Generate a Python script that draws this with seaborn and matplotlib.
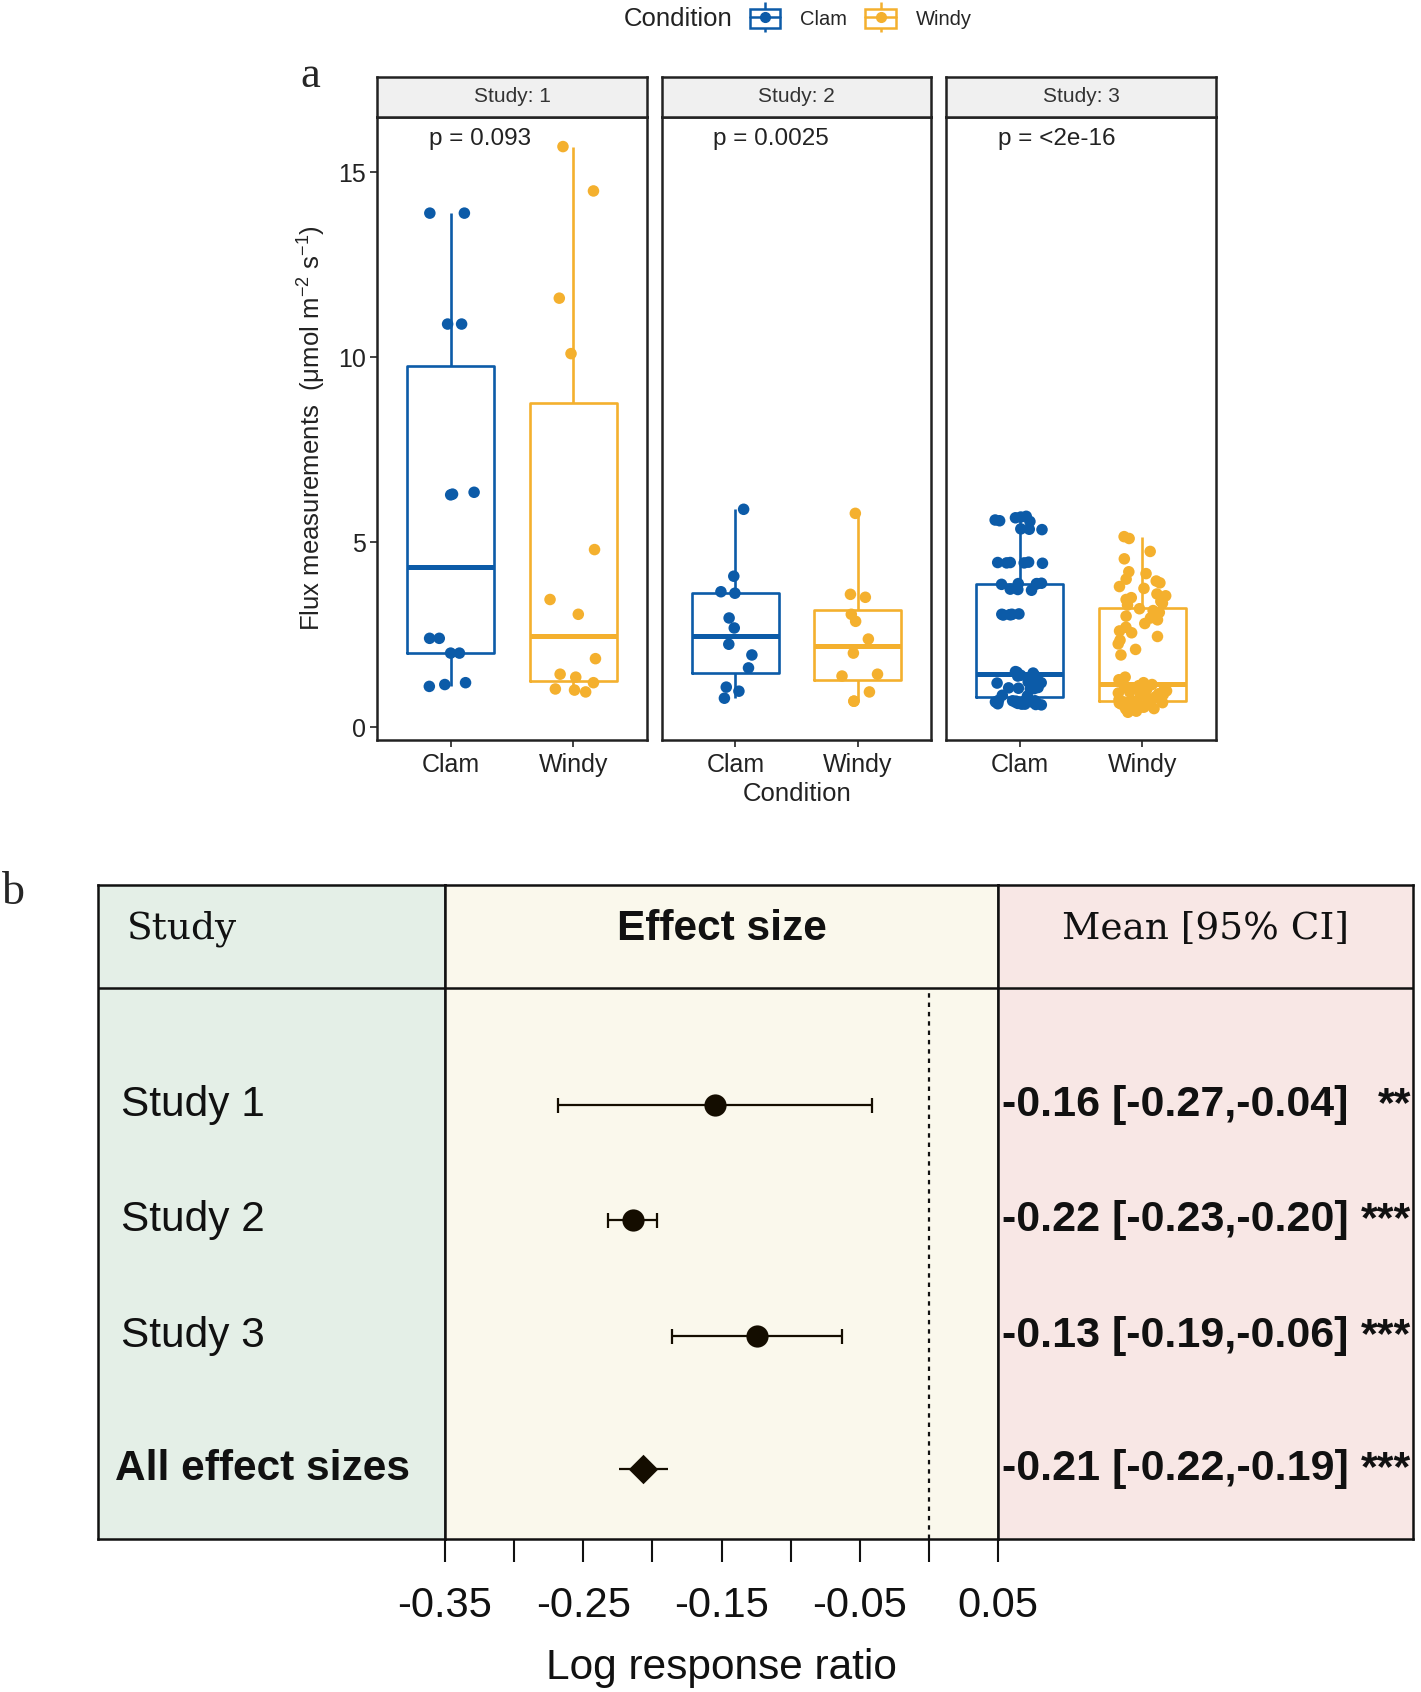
import numpy as np
import pandas as pd
import seaborn as sns
import matplotlib.pyplot as plt
import matplotlib.transforms as mtransforms
from matplotlib.lines import Line2D
from matplotlib.patches import Patch
from matplotlib.legend_handler import HandlerTuple


# ---- panel a: flux measurements per study and condition
conditions = ["Clam", "Windy"]
studies = [1, 2, 3]
p_labels = ["p = 0.093", "p = 0.0025", "p = <2e-16"]

s1_clam = [13.9, 13.9, 10.9, 10.9, 6.35, 6.3, 6.28, 2.4, 2.4, 2.0, 2.0, 1.2, 1.15, 1.1]
s1_windy = [15.7, 14.5, 11.6, 10.1, 4.8, 3.45, 3.05, 1.85, 1.43, 1.35, 1.2, 1.03, 1.0, 0.95]
s2_clam = [5.89, 4.08, 3.66, 3.62, 2.95, 2.68, 2.24, 1.95, 1.6, 1.08, 0.97, 0.78]
s2_windy = [5.78, 3.59, 3.51, 3.05, 2.86, 2.38, 2.0, 1.43, 1.38, 0.95, 0.7, 0.7]
s3_clam = [5.70, 5.68, 5.66, 5.60, 5.58, 5.56, 5.36, 5.35, 5.34,
           4.46, 4.45, 4.45, 4.44, 4.44, 4.43,
           3.89, 3.88, 3.88, 3.87, 3.86, 3.73, 3.72, 3.70,
           3.06, 3.05, 3.05, 3.04, 3.04, 3.03,
           1.50, 1.48, 1.46, 1.41, 1.40, 1.38,
           1.24, 1.23, 1.22, 1.21, 1.20, 1.19,
           1.07, 1.06, 1.05, 1.04, 1.03,
           0.86, 0.84,
           0.72, 0.71, 0.71, 0.70, 0.70, 0.69, 0.69, 0.68, 0.68, 0.67,
           0.64, 0.63, 0.62, 0.62, 0.61, 0.60]
s3_windy = [5.15, 5.10, 4.75, 4.55, 4.20, 4.15, 4.00, 3.95, 3.90, 3.80, 3.75, 3.60,
            3.55, 3.50, 3.45, 3.40, 3.35, 3.30,
            3.20, 3.15, 3.10, 3.00, 2.95, 2.90, 2.80, 2.70, 2.60, 2.55, 2.45, 2.35,
            2.25, 2.10, 1.95, 1.35, 1.28, 1.20,
            1.15, 1.12, 1.10, 1.05, 1.02, 1.00, 0.98, 0.95, 0.92, 0.90, 0.88, 0.85,
            0.82, 0.80, 0.78, 0.76, 0.74, 0.72,
            0.70, 0.68, 0.66, 0.65, 0.63, 0.62, 0.60, 0.58, 0.57, 0.55, 0.54, 0.52,
            0.50, 0.49, 0.47, 0.45, 0.43, 0.40]

# ---- panel b: forest plot
forest_labels = ["Study 1", "Study 2", "Study 3", "All effect sizes"]
forest_mean = [-0.155, -0.214, -0.124, -0.207]
forest_low = [-0.268, -0.232, -0.186, -0.224]
forest_high = [-0.041, -0.197, -0.063, -0.189]
forest_text = ["-0.16 [-0.27,-0.04]", "-0.22 [-0.23,-0.20]",
               "-0.13 [-0.19,-0.06]", "-0.21 [-0.22,-0.19]"]
forest_stars = ["**", "***", "***", "***"]
x_ticks = [-0.35, -0.30, -0.25, -0.20, -0.15, -0.10, -0.05, 0.0, 0.05]
x_ticklabels = ["-0.35", "", "-0.25", "", "-0.15", "", "-0.05", "", "0.05"]

palette = {"Clam": "#0C5BA8", "Windy": "#F4B02E"}
dark = "#222222"
black = "#111111"

rows = []
for st, cl, wi in zip(studies, [s1_clam, s2_clam, s3_clam], [s1_windy, s2_windy, s3_windy]):
    rows += [(st, "Clam", v) for v in cl]
    rows += [(st, "Windy", v) for v in wi]
df = pd.DataFrame(rows, columns=["Study", "Condition", "Flux"])

sns.set_style("ticks")
plt.rcParams["font.family"] = ["Liberation Sans", "DejaVu Sans"]
plt.rcParams["mathtext.default"] = "regular"

W, H = 1421, 1692
fig = plt.figure(figsize=(W / 100, H / 100), dpi=100)


def px_box(x0, y0, x1, y1):
    # pixel box (top-left origin) -> figure fraction rect
    return [x0 / W, 1 - y1 / H, (x1 - x0) / W, (y1 - y0) / H]


np.random.seed(7)
panel_x = [(377, 647), (662, 931), (946, 1216)]
for i, st in enumerate(studies):
    x0, x1 = panel_x[i]
    ax = fig.add_axes(px_box(x0, 117, x1, 740))
    sub = df[df["Study"] == st]
    sns.boxplot(data=sub, x="Condition", y="Flux", hue="Condition", order=conditions,
                hue_order=conditions, palette=palette, fill=False, width=0.71,
                linewidth=1.9, showfliers=False, showcaps=False,
                medianprops=dict(linewidth=3.6), legend=False, ax=ax)
    sns.stripplot(data=sub, x="Condition", y="Flux", hue="Condition", order=conditions,
                  hue_order=conditions, palette=palette, jitter=0.2, size=8.3,
                  linewidth=0, legend=False, zorder=3, ax=ax)
    ax.set_xlim(-0.6, 1.6)
    ax.set_ylim(-0.35, 16.5)
    ax.set_xlabel("")
    ax.set_ylabel("")
    for sp in ax.spines.values():
        sp.set_visible(True)
        sp.set_color(dark)
        sp.set_linewidth(1.8)
    ax.tick_params(axis="x", labelsize=18, colors=dark, length=5, width=1.2, pad=4)
    if i == 0:
        ax.set_yticks([0, 5, 10, 15])
        ax.tick_params(axis="y", labelsize=18, colors=dark, length=5, width=1.2, pad=3)
    else:
        ax.set_yticks([])
    ax.text(-0.18, 15.9, p_labels[i], fontsize=17.5, color=dark, ha="left", va="center")

    sax = fig.add_axes(px_box(x0, 77, x1, 117))
    sax.set_facecolor("#F0F0F0")
    sax.set_xticks([])
    sax.set_yticks([])
    for sp in sax.spines.values():
        sp.set_visible(True)
        sp.set_color(dark)
        sp.set_linewidth(1.8)
    sax.text(0.5, 0.5, f"Study: {st}", transform=sax.transAxes, fontsize=15,
             color="#333333", ha="center", va="center")

fig.text(312 / W, 1 - 428 / H, r"Flux measurements  (μmol m$^{-2}$ s$^{-1}$)",
         rotation=90, fontsize=18.5, color=dark, ha="center", va="center")
fig.text(797 / W, 1 - 794 / H, "Condition", fontsize=18.5, color=dark,
         ha="center", va="center")
fig.text(310 / W, 1 - 76 / H, "a", family="Liberation Serif", fontsize=32,
         ha="center", va="center")

# legend on top
fig.text(624 / W, 1 - 19 / H, "Condition", fontsize=18.5, color=dark, ha="left", va="center")
handles = []
for c in conditions:
    col = palette[c]
    whisk = Line2D([], [], color=col, marker="|", markersize=21, markeredgewidth=1.8,
                   linestyle="none")
    box = Patch(facecolor="white", edgecolor=col, linewidth=1.8)
    mid = Line2D([], [], color=col, lw=1.8, marker="o", markersize=7)
    handles.append((whisk, box, mid))
fig.legend(handles, conditions, handler_map={tuple: HandlerTuple(ndivide=1)},
           loc="center left", bbox_to_anchor=(750 / W, 1 - 19 / H), frameon=False,
           ncol=2, fontsize=14.5, handlelength=1.5, handleheight=1.05,
           handletextpad=1.0, columnspacing=0.9, borderpad=0, borderaxespad=0)

# ---- panel b
fig.text(13 / W, 1 - 893 / H, "b", family="Liberation Serif", fontsize=33,
         ha="center", va="center")

top, bottom = 885, 1539
unit = 115.5
ytop = (bottom - top) / unit
header_y = (bottom - 988) / unit
title_y = (bottom - 929) / unit
row_y = [(bottom - 1105) / unit, (bottom - 1220) / unit,
         (bottom - 1336) / unit, (bottom - 1469) / unit]

axl = fig.add_axes(px_box(98, top, 445, bottom))
axm = fig.add_axes(px_box(445, top, 998, bottom))
axr = fig.add_axes(px_box(998, top, 1413, bottom))
for a, fc in zip([axl, axm, axr], ["#E4EFE7", "#FAF8EC", "#F8E7E5"]):
    a.set_facecolor(fc)
    a.set_ylim(0, ytop)
    a.axhline(header_y, color=black, lw=1.8)
    for sp in a.spines.values():
        sp.set_visible(True)
        sp.set_color(black)
        sp.set_linewidth(1.8)
    a.set_yticks([])
for a in [axl, axr]:
    a.set_xticks([])
    a.set_xlim(0, 1)

axl.text(0.083, title_y, "Study", family="DejaVu Serif", fontsize=27, color=black,
         ha="left", va="center")
axm.text(0.5, title_y, "Effect size", transform=mtransforms.blended_transform_factory(
    axm.transAxes, axm.transData), fontsize=30.5, fontweight="bold", color=black,
    ha="center", va="center")
axr.text(0.5, title_y, "Mean [95% CI]", family="DejaVu Serif", fontsize=27, color=black,
         ha="center", va="center")

for k, lab in enumerate(forest_labels):
    summary = k == len(forest_labels) - 1
    axl.text(0.049 if summary else 0.066, row_y[k], lab, fontsize=30.5, color=black,
             fontweight="bold" if summary else "normal", ha="left", va="center")
    axr.text(0.010, row_y[k], forest_text[k], fontsize=31, fontweight="bold",
             color=black, ha="left", va="center")
    axr.text(0.995, row_y[k], forest_stars[k], fontsize=31, fontweight="bold",
             color=black, ha="right", va="center")

fdf = pd.DataFrame({"label": forest_labels, "mean": forest_mean, "low": forest_low,
                    "high": forest_high, "y": row_y})
studies_df = fdf.iloc[:3]
summary_df = fdf.iloc[3:]
ink = "#140D00"
axm.errorbar(studies_df["mean"], studies_df["y"],
             xerr=[studies_df["mean"] - studies_df["low"], studies_df["high"] - studies_df["mean"]],
             fmt="none", ecolor=ink, elinewidth=1.6, capsize=5.4, capthick=1.6, zorder=2)
axm.errorbar(summary_df["mean"], summary_df["y"],
             xerr=[summary_df["mean"] - summary_df["low"], summary_df["high"] - summary_df["mean"]],
             fmt="none", ecolor=ink, elinewidth=1.6, capsize=0, zorder=2)
sns.scatterplot(data=studies_df, x="mean", y="y", color=ink, s=256, marker="o",
                linewidth=0, zorder=3, ax=axm)
sns.scatterplot(data=summary_df, x="mean", y="y", color=ink, s=225, marker="D",
                linewidth=0, zorder=3, ax=axm)
axm.vlines(0, 0, header_y, colors=black, linestyles=(0, (2, 2.2)), lw=1.6)
axm.set_xlim(-0.35, 0.05)
axm.set_ylim(0, ytop)
axm.set_xticks(x_ticks)
axm.set_xticklabels(x_ticklabels)
axm.tick_params(axis="x", direction="out", length=16.5, width=1.5, labelsize=30,
                pad=17, colors=black)
axm.set_ylabel("")
axm.set_xlabel("Log response ratio", fontsize=30.5, labelpad=16, color=black)

fig.savefig("out.png", dpi=100)
